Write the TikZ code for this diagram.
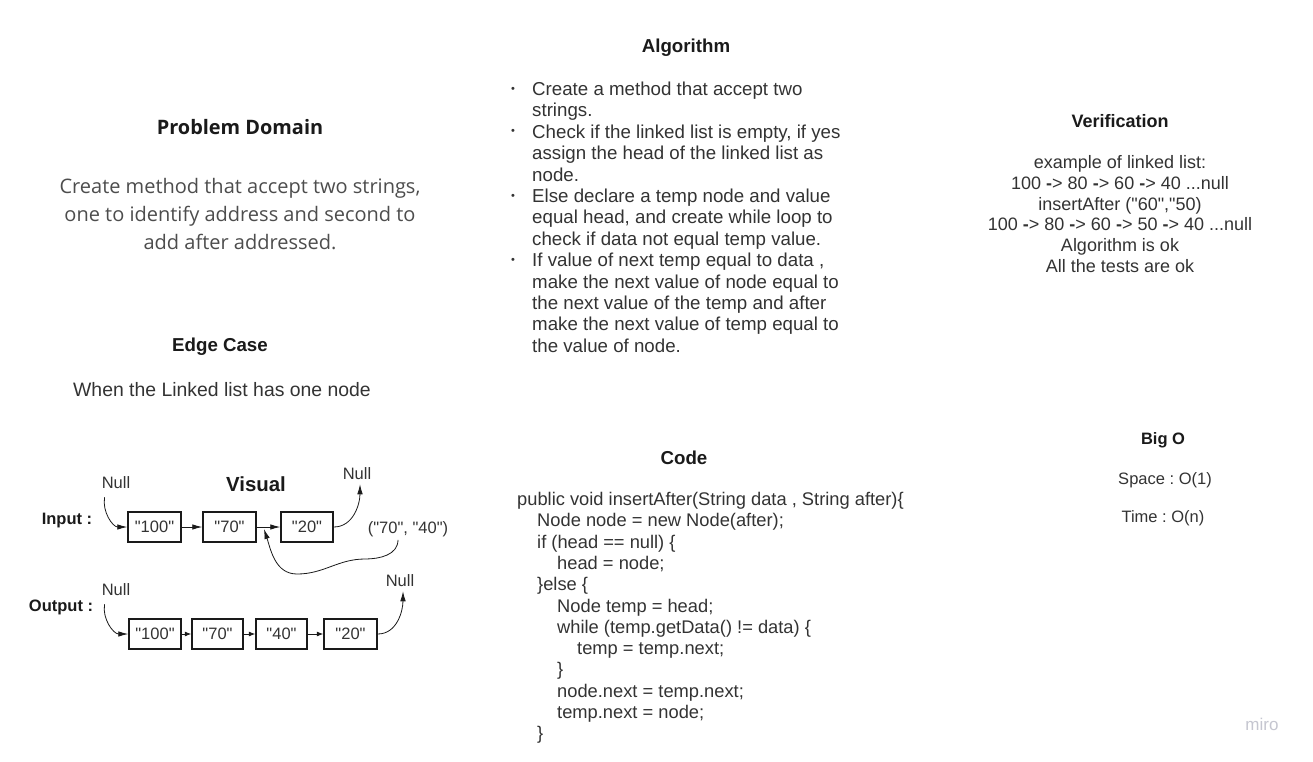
\documentclass[tikz,border=0pt]{standalone}
\usepackage{fontspec}
\setmainfont{Liberation Sans}[Ligatures=TeXOff]
\newfontfamily\opensans{Open Sans}
\usetikzlibrary{arrows.meta}
\definecolor{ink}{HTML}{333333}
\definecolor{dark}{HTML}{1A1A1A}
\definecolor{soft}{HTML}{4D4D4D}
\definecolor{logo}{HTML}{C5C6D0}
\newcommand{\codetab}{\hspace*{20pt}}
\newcommand{\arr}{\textbf{-}>}
\frenchspacing

\begin{document}
\begin{tikzpicture}
	[x=1pt,y=-1pt,every node/.style={inner sep=0pt,text=ink}]
	\tikzset{edge/.style = {->,> = {Latex[length=10pt,width=5.5pt]},draw=dark,line width=0.8pt}}
	\tikzset{short/.style = {> = {Latex[length=6.5pt,width=5pt]}}}
	\tikzset{head/.style = {font=\bfseries\fontsize{18.7}{21.4}\selectfont,text=dark,anchor=base}}
	\tikzset{para/.style = {font=\fontsize{18.7}{21.4}\selectfont,align=left,anchor=base west}}
	\tikzset{small/.style = {font=\fontsize{16.5}{19}\selectfont}}
	\tikzset{lbl/.style = {font=\bfseries\fontsize{16.5}{19}\selectfont,text=dark}}
	\tikzset{dot/.style = {font=\fontsize{11}{12}\selectfont}}
	\tikzset{cell/.style = {draw=dark,line width=1.5pt,minimum width=53pt,minimum height=30pt,font=\fontsize{16.5}{19}\selectfont}}
	\useasboundingbox[fill=white] (0,0) rectangle (1313,761);

	% problem domain (multi-line nodes sit on their last baseline)
	\node[head,font=\opensans\bfseries\fontsize{19.9}{23}\selectfont] (pd) at (240,134) {Problem Domain};
	\node[font=\opensans\fontsize{20}{28}\selectfont,align=center,anchor=base,text=soft] (pdtext) at (240,249) {Create method that accept two strings,\\one to identify address and second to\\add after addressed.};

	% edge case
	\node[head] (ec) at (220,351) {Edge Case};
	\node[font=\fontsize{19.4}{22}\selectfont,anchor=base] (ectext) at (222,396) {When the Linked list has one node};

	% visual
	\node[head,font=\bfseries\fontsize{20.4}{24}\selectfont] (vis) at (256,491) {Visual};
	\node[lbl] (inlbl) at (67,521) {Input :};
	\node[lbl] (outlbl) at (61,607) {Output :};
	\node[cell] (i1) at (154.5,527) {"100"};
	\node[cell] (i2) at (229.5,527) {"70"};
	\node[cell,minimum width=52pt] (i3) at (307,527) {"20"};
	\node[small] (nl1) at (116,483) {Null};
	\node[small] (nl2) at (357,474) {Null};
	\node[small] (ins) at (408,529) {("70", "40")};
	\node[cell,minimum width=52pt] (o1) at (155,634) {"100"};
	\node[cell,minimum width=51pt] (o2) at (217.5,634) {"70"};
	\node[cell,minimum width=51pt] (o3) at (281.5,634) {"40"};
	\node[cell] (o4) at (350.5,634) {"20"};
	\node[small] (nl3) at (116,590) {Null};
	\node[small] (nl4) at (400,581) {Null};
	\coordinate (gap) at (264,529);
	\coordinate (wave) at (365,559);
	\coordinate (dip) at (297,574);

	\foreach \from/\to in {i1/i2,i2/i3}
	\draw[edge] (\from)--(\to);
	\foreach \from/\to in {o1/o2,o2/o3,o3/o4}
	\draw[edge,short] (\from)--(\to);
	\draw[edge] ([xshift=3pt,yshift=-8pt]nl1.south west) to[out=260,in=180] (i1.west);
	\draw[edge] (i3.east) to[out=0,in=-90] ([xshift=3pt,yshift=-4pt]nl2.south);
	\draw[edge] ([xshift=3pt,yshift=-8pt]nl3.south west) to[out=260,in=180] (o1.west);
	\draw[edge] (o4.east) to[out=0,in=-90] ([xshift=3pt,yshift=-4pt]nl4.south);
	\draw[edge] ([xshift=-10pt,yshift=-3pt]ins.south) to[out=-90,in=0] (wave) to[out=180,in=0] (dip) to[out=180,in=-72] (gap);

	% algorithm
	\node[head] (alg) at (686,52) {Algorithm};
	\node[para] (a1) at (532,116.9) {Create a method that accept two\\strings.};
	\node[para] (a2) at (532,181.1) {Check if the linked list is empty, if yes\\assign the head of the linked list as\\node.};
	\node[para] (a3) at (532,245.3) {Else declare a temp node and value\\equal head, and create while loop to\\check if data not equal temp value.};
	\node[para] (a4) at (532,352.3) {If value of next temp equal to data ,\\make the next value of node equal to\\the next value of the temp and after\\make the next value of temp equal to\\the value of node.};
	\foreach \k/\y in {1/95.5,2/138.3,3/202.5,4/266.7}
	\node[dot] (b\k) at (513,\y-6) {•};

	% code
	\node[head] (code) at (684,464.5) {Code};
	\node[para,font=\fontsize{18.3}{21.3}\selectfont] (src) at (517,739.8) {public void insertAfter(String data , String after)\{\\
	\codetab Node node = new Node(after);\\
	\codetab if (head == null) \{\\
	\codetab\codetab head = node;\\
	\codetab\}else \{\\
	\codetab\codetab Node temp = head;\\
	\codetab\codetab while (temp.getData() != data) \{\\
	\codetab\codetab\codetab temp = temp.next;\\
	\codetab\codetab\}\\
	\codetab\codetab node.next = temp.next;\\
	\codetab\codetab temp.next = node;\\
	\codetab\}};

	% verification
	\node[head,font=\bfseries\fontsize{18}{21}\selectfont] (ver) at (1120,127.5) {Verification};
	\node[font=\fontsize{18}{20.8}\selectfont,align=center,anchor=base] (vertext) at (1120,272.5) {example of linked list:\\100 \arr{} 80 \arr{} 60 \arr{} 40 ...null\\insertAfter ("60","50)\\100 \arr{} 80 \arr{} 60 \arr{} 50 \arr{} 40 ...null\\Algorithm is ok\\All the tests are ok};

	% big o
	\node[head,font=\bfseries\fontsize{16.5}{19}\selectfont] (bigo) at (1163,444) {Big O};
	\node[small,anchor=base] (space) at (1165,484) {Space : O(1)};
	\node[small,anchor=base] (time) at (1163,522) {Time : O(n)};

	\node[font=\fontsize{17}{20}\selectfont,text=logo] (miro) at (1262,724) {miro};
\end{tikzpicture}
\end{document}
